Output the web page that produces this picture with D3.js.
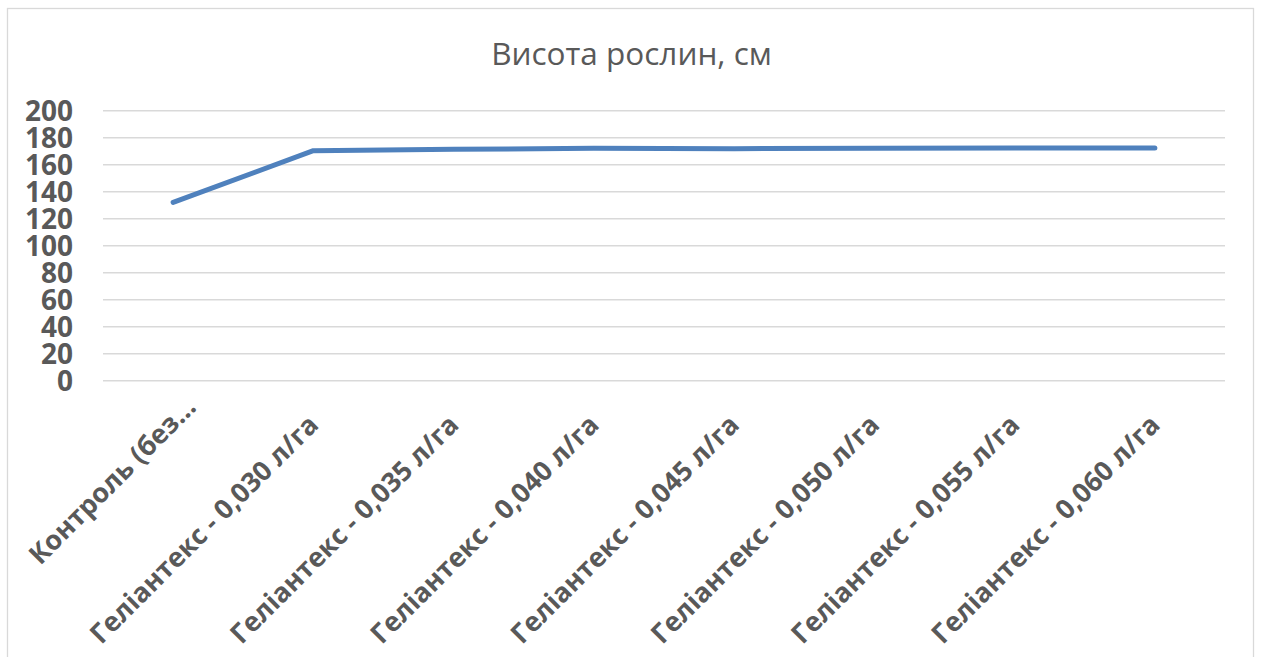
<!DOCTYPE html>
<html>
<head>
<meta charset="utf-8">
<script src="https://cdn.jsdelivr.net/npm/d3@7"></script>
<style>
  html, body { margin: 0; padding: 0; background: #fff; }
  svg { display: block; }
</style>
</head>
<body>
<svg id="chart" width="1261" height="657"></svg>
<script>
const title = "Висота рослин, см";
const categories = [
  "Контроль (без…",
  "Геліантекс - 0,030 л/га",
  "Геліантекс - 0,035 л/га",
  "Геліантекс - 0,040 л/га",
  "Геліантекс - 0,045 л/га",
  "Геліантекс - 0,050 л/га",
  "Геліантекс - 0,055 л/га",
  "Геліантекс - 0,060 л/га"
];
const values = [132.1, 170.4, 171.4, 172.1, 171.9, 172.2, 172.3, 172.3];
const yTicks = [0, 20, 40, 60, 80, 100, 120, 140, 160, 180, 200];

const svg = d3.select("#chart");
const plot = { left: 103, right: 1225, top: 110.7, bottom: 380.7 };
const textColor = "#595959";
const gridColor = "#d9d9d9";

// chart border
svg.append("rect")
  .attr("x", 7.5).attr("y", 8.5)
  .attr("width", 1246).attr("height", 700)
  .attr("fill", "#fff").attr("stroke", gridColor).attr("stroke-width", 1.3);

const x = d3.scaleBand().domain(categories).range([plot.left, plot.right]);
const y = d3.scaleLinear().domain([0, 200]).range([plot.bottom, plot.top]);

// gridlines
svg.append("g")
  .selectAll("line").data(yTicks).join("line")
  .attr("x1", plot.left).attr("x2", plot.right)
  .attr("y1", d => y(d)).attr("y2", d => y(d))
  .attr("stroke", gridColor).attr("stroke-width", 1.4);

// y axis labels
const yAxis = d3.axisLeft(y).tickValues(yTicks).tickSize(0).tickPadding(0);
const gy = svg.append("g").attr("transform", `translate(73,0)`).call(yAxis);
gy.select(".domain").remove();
gy.selectAll("text")
  .attr("fill", textColor)
  .attr("font-family", "'Open Sans', sans-serif")
  .attr("font-weight", 700)
  .attr("font-size", 28)
  .attr("dy", "0.36em");

// x axis labels
const xAxis = d3.axisBottom(x).tickSize(0).tickPadding(0);
const gx = svg.append("g").attr("transform", `translate(0,${plot.bottom})`).call(xAxis);
gx.select(".domain").remove();
gx.selectAll("text")
  .attr("fill", textColor)
  .attr("font-family", "'Open Sans', sans-serif")
  .attr("font-weight", 700)
  .attr("font-size", 27)
  .attr("text-anchor", "end")
  .attr("dy", "0.35em")
  .attr("dx", d => d.endsWith("…") ? 25 : 0)
  .attr("y", 0)
  .attr("transform", "translate(0,39) rotate(-45)");

// line
const line = d3.line()
  .x((d, i) => x(categories[i]) + x.bandwidth() / 2)
  .y(d => y(d));
svg.append("path")
  .datum(values)
  .attr("d", line)
  .attr("fill", "none")
  .attr("stroke", "#4f81bd")
  .attr("stroke-width", 5)
  .attr("stroke-linecap", "round")
  .attr("stroke-linejoin", "round");

// title
svg.append("text")
  .attr("x", 631.5).attr("y", 65)
  .attr("text-anchor", "middle")
  .attr("fill", textColor)
  .attr("font-family", "'Open Sans', sans-serif")
  .attr("font-size", 31.5)
  .text(title);
</script>
</body>
</html>
